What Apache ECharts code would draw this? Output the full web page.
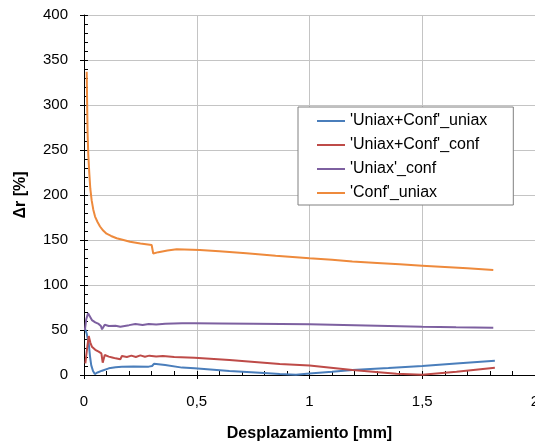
<!DOCTYPE html>
<html>
<head>
<meta charset="utf-8">
<script src="https://cdn.jsdelivr.net/npm/echarts@6/dist/echarts.min.js"></script>
<style>
  html, body { margin: 0; padding: 0; background: #fff; }
  #chart { width: 535px; height: 443px; }
</style>
</head>
<body>
<div id="chart"></div>
<script>
// Axis settings
const xTicks = { min: 0, max: 2, interval: 0.5 };
const yTicks = { min: 0, max: 400, interval: 50 };

const seriesNames = ["'Uniax+Conf'_uniax", "'Uniax+Conf'_conf", "'Uniax'_conf", "'Conf'_uniax"];
const seriesColors = ['#4a7ebb', '#be4b48', '#7d60a0', '#ee8a3c'];

// 'Uniax+Conf'_uniax
const xUCu = [0.004, 0.012, 0.021, 0.027, 0.032, 0.040, 0.048, 0.060, 0.080, 0.110, 0.140, 0.168, 0.220, 0.287, 0.302, 0.310, 0.316, 0.360, 0.435, 0.490, 0.645, 0.780, 0.868, 0.940, 1.000, 1.100, 1.190, 1.350, 1.500, 1.650, 1.822];
const yUCu = [52, 46, 35, 20, 11, 4.5, 1.1, 2.8, 4.8, 7.4, 8.6, 9.3, 9.5, 9.3, 10, 12.4, 12.6, 11, 8.2, 7.4, 4.4, 2.4, 1.1, 0.4, 1.8, 3.6, 5.5, 7.8, 10, 12.8, 15.9];

// 'Uniax+Conf'_conf
const xUCc = [0.006, 0.014, 0.021, 0.028, 0.035, 0.050, 0.065, 0.077, 0.083, 0.092, 0.110, 0.125, 0.140, 0.161, 0.168, 0.190, 0.210, 0.230, 0.250, 0.270, 0.290, 0.320, 0.350, 0.400, 0.490, 0.645, 0.868, 1.000, 1.190, 1.386, 1.500, 1.652, 1.822];
const yUCc = [13, 30, 43.3, 36, 31.5, 28, 25.9, 24, 13.7, 22.2, 20.4, 19.5, 18.5, 17.4, 21.1, 20, 21.5, 20, 21.8, 20.3, 21.5, 20.5, 21, 20, 19.3, 16.7, 12.2, 10.5, 5.5, 1.3, 0.4, 3.7, 8.1];

// 'Uniax'_conf
const xUc = [0.004, 0.010, 0.018, 0.035, 0.050, 0.065, 0.075, 0.080, 0.092, 0.110, 0.140, 0.161, 0.168, 0.200, 0.228, 0.260, 0.287, 0.320, 0.360, 0.435, 0.490, 0.600, 0.750, 1.000, 1.250, 1.500, 1.650, 1.815];
const yUc = [50, 62, 68.5, 61, 58.5, 56.7, 54.4, 50.7, 55.9, 54.4, 54.8, 53.7, 55.9, 55.4, 56.7, 55.6, 56.7, 56.2, 57, 57.4, 57.4, 57.2, 57, 56.3, 55, 53.7, 53.1, 52.6];

// 'Conf'_uniax
const xCu = [0.012, 0.014, 0.016, 0.019, 0.0235, 0.028, 0.034, 0.041, 0.049, 0.060, 0.071, 0.085, 0.100, 0.120, 0.145, 0.175, 0.204, 0.250, 0.300, 0.307, 0.330, 0.370, 0.411, 0.514, 0.600, 0.720, 0.850, 1.000, 1.100, 1.190, 1.300, 1.400, 1.500, 1.600, 1.700, 1.815];
const yCu = [337, 300, 268, 245, 224, 207, 194, 184, 176, 170, 165, 160.5, 157, 154.5, 152, 150, 148, 146, 144.4, 135, 136.5, 138.3, 139.6, 139, 137.6, 135.2, 132.5, 129.6, 128, 126, 124.5, 123, 121.5, 120, 118.5, 116.7];

const seriesX = [xUCu, xUCc, xUc, xCu];
const seriesY = [yUCu, yUCc, yUc, yCu];

const chart = echarts.init(document.getElementById('chart'), null, { renderer: 'canvas' });

const fontFamily = "'Liberation Sans', Arial, sans-serif";
const gridColor = '#c4c4c4';

const series = seriesNames.map((name, i) => ({
  name: name,
  type: 'line',
  xAxisIndex: 0,
  yAxisIndex: 0,
  data: seriesX[i].map((x, k) => [x, seriesY[i][k]]),
  showSymbol: false,
  symbol: 'none',
  smooth: false,
  color: seriesColors[i],
  lineStyle: { width: 2, color: seriesColors[i] },
  z: 3
}));

const option = {
  animation: false,
  backgroundColor: '#fff',
  textStyle: { fontFamily: fontFamily },
  grid: { left: 84, right: 0, top: 15, bottom: 68, containLabel: false, outerBoundsMode: 'none' },
  legend: {
    show: true,
    data: seriesNames,
    orient: 'vertical',
    left: 298,
    top: 107,
    icon: 'rect',
    itemWidth: 28,
    itemHeight: 2,
    itemGap: 8,
    padding: [6, 26, 4, 19],
    backgroundColor: '#fff',
    borderColor: '#808080',
    borderWidth: 1,
    borderRadius: 0,
    selectedMode: false,
    textStyle: { fontSize: 16, color: '#000', fontFamily: fontFamily, lineHeight: 16 }
  },
  xAxis: [
    {
      type: 'value',
      min: xTicks.min, max: xTicks.max, interval: xTicks.interval,
      position: 'bottom',
      name: 'Desplazamiento [mm]',
      nameLocation: 'middle',
      nameGap: 51,
      nameTextStyle: { fontSize: 16, fontWeight: 'bold', color: '#000', fontFamily: fontFamily },
      axisLine: { show: true, onZero: false, lineStyle: { color: '#000', width: 1 } },
      axisTick: { show: true, inside: true, length: 4, lineStyle: { color: '#000' } },
      minorTick: { show: true, splitNumber: 5, length: 4, lineStyle: { color: '#000' } },
      axisLabel: {
        show: true, margin: 19, fontSize: 15, color: '#000', fontFamily: fontFamily,
        showMaxLabel: true,
        formatter: v => String(v).replace('.', ',')
      },
      splitLine: { show: true, lineStyle: { color: gridColor, width: 1 } }
    },
    {
      // outward half of the major tick marks
      type: 'value',
      min: xTicks.min, max: xTicks.max, interval: xTicks.interval,
      position: 'bottom',
      axisLine: { show: false },
      axisTick: { show: true, inside: false, length: 4, lineStyle: { color: '#000' } },
      axisLabel: { show: false },
      splitLine: { show: false }
    }
  ],
  yAxis: [
    {
      type: 'value',
      min: yTicks.min, max: yTicks.max, interval: yTicks.interval,
      position: 'left',
      name: 'Δr [%]',
      nameLocation: 'middle',
      nameGap: 55,
      nameTextStyle: { fontSize: 16, fontWeight: 'bold', color: '#000', fontFamily: fontFamily },
      axisLine: { show: true, onZero: false, lineStyle: { color: '#000', width: 1 } },
      axisTick: { show: true, inside: true, length: 4, lineStyle: { color: '#000' } },
      minorTick: { show: true, splitNumber: 5, length: 4, lineStyle: { color: '#000' } },
      axisLabel: { show: true, margin: 16, fontSize: 15, color: '#000', fontFamily: fontFamily },
      splitLine: { show: true, lineStyle: { color: gridColor, width: 1 } }
    },
    {
      type: 'value',
      min: yTicks.min, max: yTicks.max, interval: yTicks.interval,
      position: 'left',
      axisLine: { show: false },
      axisTick: { show: true, inside: false, length: 4, lineStyle: { color: '#000' } },
      axisLabel: { show: false },
      splitLine: { show: false }
    }
  ],
  series: series
};

chart.setOption(option);
</script>
</body>
</html>
